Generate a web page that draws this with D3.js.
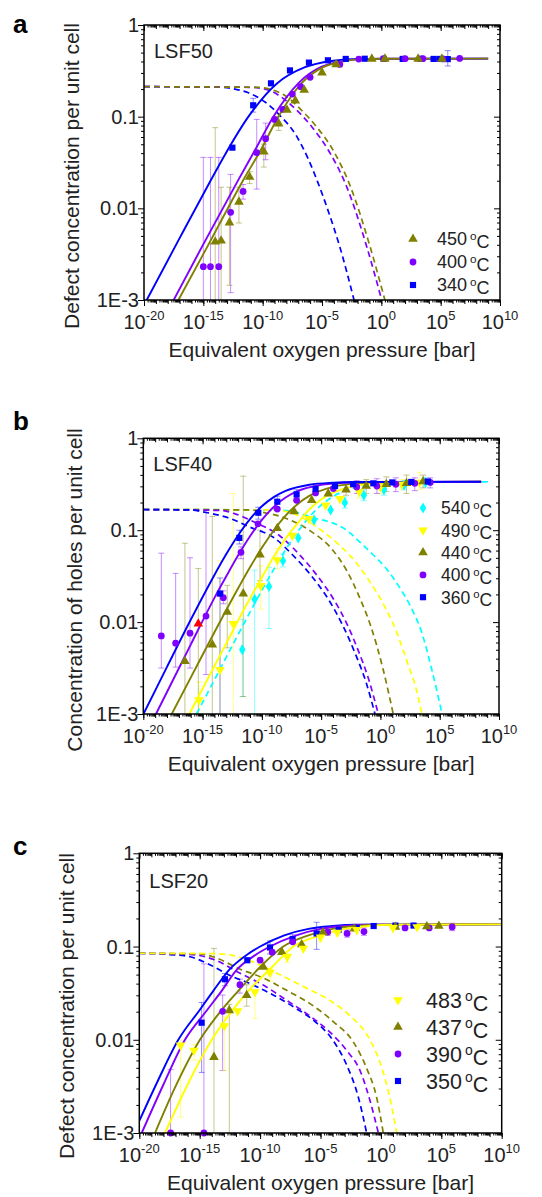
<!DOCTYPE html>
<html>
<head>
<meta charset="utf-8">
<script src="https://cdn.jsdelivr.net/npm/d3@7"></script>
<style>
  body { margin: 0; background: #fff; }
  svg { display: block; font-family: "Liberation Sans", Arial, sans-serif; }
</style>
</head>
<body>
<div id="container"></div>
<script>
// all values are read off the picture as exponents:
// [log10 pO2 (bar), log10 concentration, log10 err low, log10 err high]
// a null err low means the bar runs off the bottom of the plot
const xMajor = [-20, -15, -10, -5, 0, 5, 10];
const yMajor = [-3, -2, -1, 0];
const yLabels = ["1E-3", "0.01", "0.1", "1"];

// ---- a: LSF50 ----
const aTemps = ["450", "400", "340"];
const a340Pts = [[-12.55, -1.338], [-10.8, -0.876, -0.95, -0.8], [-9.3, -0.636], [-7.7, -0.495], [-6.1, -0.41],
  [-4.5, -0.385], [-3.0, -0.37], [-1.4, -0.368], [0.2, -0.37], [1.8, -0.37], [3.3, -0.368], [4.4, -0.37],
  [4.9, -0.37], [5.6, -0.372, -0.447, -0.28]];
const a400Pts = [[-15.0, -2.636, null, -1.444], [-14.4, -2.636, null, -1.444], [-13.7, -2.636, null, -1.444],
  [-12.7, -2.044, -2.92, -1.63], [-11.65, -1.815, -1.9, -1.74], [-10.5, -1.393, -1.79, -1.03],
  [-9.75, -1.24, -1.47, -1.07], [-9.0, -1.03], [-8.3, -0.92], [-7.5, -0.753], [-6.8, -0.673], [-6.0, -0.571],
  [-3.5, -0.43], [-1.9, -0.372], [0.2, -0.368], [2.0, -0.368], [3.5, -0.368], [5.2, -0.37], [6.6, -0.365]];
const a450Pts = [[-14.0, -2.364, null, -1.12], [-13.5, -2.353, null, -1.77], [-12.8, -2.156, -2.84, -1.77],
  [-12.0, -1.93, -2.16, -1.77], [-11.1, -1.658, -1.73, -1.6], [-9.9, -1.382, -1.55, -1.3],
  [-8.65, -1.076, -1.15, -1.0], [-7.95, -0.927], [-7.25, -0.825], [-6.5, -0.709], [-5.0, -0.52],
  [-3.8, -0.43], [-0.8, -0.37], [0.3, -0.37], [3.1, -0.37], [5.1, -0.37]];
const a340Fit = [[-19.77, -3], [-17.1, -2.35], [-14.44, -1.71], [-13.2, -1.42], [-11.2, -1.0], [-8.82, -0.64],
  [-6.43, -0.46], [-4.05, -0.39], [-2, -0.37], [9, -0.367]];
const a400Fit = [[-17.5, -3], [-15.2, -2.44], [-12.05, -1.69], [-10.5, -1.33], [-9.1, -1.0], [-7.0, -0.636],
  [-5.03, -0.455], [-3.5, -0.4], [-2, -0.375], [0, -0.368], [9, -0.367]];
const a450Fit = [[-17.1, -3], [-15.0, -2.5], [-11.63, -1.69], [-10.1, -1.35], [-8.68, -1.0], [-6.73, -0.636],
  [-4.9, -0.46], [-3.3, -0.4], [-2, -0.375], [0, -0.368], [9, -0.367]];
const a340Drop = [[-20, -0.673], [-14, -0.676], [-12.5, -0.695], [-11.2, -0.74], [-9.8, -0.84], [-8.6, -0.98],
  [-7.2, -1.2], [-6.2, -1.45], [-5.4, -1.7], [-4.5, -2.02], [-3.5, -2.42], [-2.3, -3.0]];
const a400Drop = [[-20, -0.673], [-11, -0.68], [-9.5, -0.71], [-8.5, -0.78], [-7.2, -0.92], [-5.8, -1.12],
  [-4.4, -1.38], [-2.92, -1.764], [-1.23, -2.418], [0.03, -3.0]];
const a450Drop = [[-20, -0.673], [-10.5, -0.68], [-9.0, -0.715], [-8.0, -0.78], [-6.8, -0.92], [-5.4, -1.12],
  [-4.0, -1.38], [-2.6, -1.764], [-0.95, -2.418], [0.3, -3.0]];

// ---- b: LSF40 ----
const bTemps = ["540", "490", "440", "400", "360"];
const b360Pts = [[-13.53, -1.69, null, -1.52], [-11.9, -1.084, -1.15, -1.0], [-10.3, -0.81, -0.88, -0.75],
  [-8.7, -0.69, -0.75, -0.63], [-7.07, -0.61, -0.65, -0.56], [-5.47, -0.55], [-3.83, -0.518],
  [-2.3, -0.5], [-0.6, -0.49], [1.0, -0.48], [2.6, -0.475], [4.0, -0.47]];
const b400Pts = [[-18.48, -2.15, -2.5, -1.25], [-17.27, -2.23, -2.49, -1.47], [-16.06, -2.12, -2.5, -1.3],
  [-14.71, -1.934, -2.57, -0.807], [-13.25, -1.734, -1.8, -1.66], [-11.76, -1.241, -1.31, -1.18],
  [-10.33, -0.93], [-8.7, -0.77], [-7.07, -0.675], [-5.47, -0.595], [-3.97, -0.547],
  [-2.0, -0.53, -0.6, -0.46], [-0.3, -0.52, -0.6, -0.44], [1.3, -0.5, -0.58, -0.43],
  [2.9, -0.49, -0.57, -0.43], [4.2, -0.48, -0.54, -0.43]];
const b440Pts = [[-16.49, -2.427, null, -1.142], [-14.18, -2.245, null, -0.85], [-12.92, -1.89, -2.28, -1.6],
  [-11.57, -1.69, -2.81, -0.412], [-10.16, -1.266, -1.55, -1.0], [-8.7, -0.978], [-7.29, -0.796],
  [-5.8, -0.675], [-4.4, -0.602], [-2.9, -0.56, -0.62, -0.5], [-1.2, -0.52, -0.6, -0.45],
  [0.5, -0.5, -0.58, -0.42], [2.2, -0.49, -0.6, -0.4], [3.6, -0.47, -0.54, -0.4]];
const b490Pts = [[-15.3, -2.847, null, -2.65], [-13.53, -2.518, null, -1.33], [-12.41, -2.018, null, -0.6],
  [-10.1, -1.606, -1.86, -1.387], [-8.7, -1.325, -1.42, -1.2], [-7.43, -1.058], [-6.03, -0.876],
  [-4.62, -0.73], [-3.41, -0.657], [-1.8, -0.58, -0.65, -0.52], [0.0, -0.53, -0.6, -0.47],
  [1.8, -0.5, -0.56, -0.45], [3.3, -0.48, -0.56, -0.37]];
const b540Pts = [[-11.65, -2.3, -2.81, -1.97], [-10.61, -1.752, null, -1.434], [-9.4, -1.613, -2.07, -1.405],
  [-8.22, -1.332, -1.4, -1.26], [-6.93, -1.084], [-5.6, -0.887], [-4.2, -0.78],
  [-3.0, -0.7, -0.76, -0.64], [-1.4, -0.62, -0.68, -0.56], [0.3, -0.56, -0.62, -0.5],
  [2.0, -0.51, -0.56, -0.46], [3.8, -0.48, -0.53, -0.43]];
const bRedPts = [[-15.36, -2.018, null, -1.416]];
const b360Fit = [[-20, -3.004], [-19, -2.745], [-18, -2.487], [-16, -1.975], [-14, -1.487], [-13, -1.26],
  [-12, -1.055], [-11, -0.879], [-10, -0.74], [-9, -0.64], [-8, -0.572], [-6, -0.505], [-4, -0.483],
  [-2, -0.476], [8.5, -0.473]];
const b400Fit = [[-18.93, -3.0], [-18, -2.761], [-16, -2.245], [-14, -1.736], [-13, -1.501], [-12, -1.273],
  [-11, -1.066], [-10, -0.888], [-9, -0.747], [-8, -0.644], [-7, -0.575], [-5, -0.507], [-3, -0.483],
  [-1, -0.476], [8.5, -0.473]];
const b440Fit = [[-17.6, -3.0], [-16, -2.604], [-14, -2.11], [-12, -1.632], [-11, -1.404], [-10, -1.192],
  [-9, -1.003], [-8, -0.842], [-7, -0.717], [-6, -0.627], [-4, -0.528], [-2, -0.491], [0, -0.479], [8.5, -0.473]];
const b490Fit = [[-16.12, -3.0], [-15, -2.725], [-13, -2.231], [-11, -1.741], [-10, -1.514], [-9, -1.288],
  [-8, -1.092], [-7, -0.928], [-6, -0.774], [-5, -0.666], [-4, -0.592], [-2, -0.514], [0, -0.487],
  [2, -0.477], [8.5, -0.473]];
const b540Fit = [[-15.51, -3.0], [-14, -2.628], [-12, -2.135], [-10, -1.655], [-9, -1.427], [-8, -1.213],
  [-7, -1.02], [-6, -0.857], [-5, -0.728], [-4, -0.634], [-2, -0.531], [0, -0.492], [3, -0.476], [9.2, -0.473]];
const b360Drop = [[-20, -0.775], [-16, -0.78], [-15, -0.8], [-12.6, -0.876], [-11, -0.967], [-9, -1.08],
  [-7.4, -1.27], [-5.8, -1.5], [-4.4, -1.75], [-3.2, -2.03], [-2.1, -2.35], [-1.2, -2.66], [-0.46, -3.0]];
const b400Drop = [[-20, -0.775], [-13.5, -0.785], [-12.3, -0.82], [-10.5, -0.92], [-8.5, -1.06],
  [-6.8, -1.27], [-5.3, -1.5], [-4.0, -1.74], [-2.9, -2.0], [-1.9, -2.3], [-1.0, -2.62], [-0.18, -3.0]];
const b440Drop = [[-20, -0.775], [-11, -0.78], [-10.1, -0.8], [-8, -0.87], [-6, -1.0], [-4.0, -1.22],
  [-2.8, -1.45], [-1.8, -1.72], [-0.8, -2.05], [0.2, -2.5], [1.08, -3.0]];
const b490Drop = [[-20, -0.775], [-9, -0.78], [-6.8, -0.85], [-5.1, -0.99], [-3.4, -1.17], [-2.0, -1.36],
  [-0.8, -1.58], [0.4, -1.84], [1.4, -2.12], [2.3, -2.45], [3.0, -2.72], [3.5, -3.0]];
const b540Drop = [[-20, -0.775], [-9, -0.78], [-7.6, -0.79], [-5.9, -0.855], [-2.85, -1.0], [-1.73, -1.13],
  [-0.6, -1.27], [0.5, -1.42], [1.5, -1.6], [2.5, -1.82], [3.5, -2.12], [4.3, -2.5], [5.2, -3.0]];

// ---- c: LSF20 ----
const cTemps = ["483", "437", "390", "350"];
const c350Pts = [[-14.84, -1.817, -2.35, -1.6], [-12.91, -1.351, -1.42, -1.29], [-11.06, -1.147],
  [-9.18, -1.01, -1.08, -0.94], [-7.31, -0.921, -0.95, -0.874], [-5.32, -0.86, -1.03, -0.74],
  [-3.5, -0.82], [-2.0, -0.8], [-0.6, -0.78], [1.2, -0.775], [2.7, -0.775]];
const c390Pts = [[-17.41, -3.0, null, -2.32], [-14.65, -3.0, null, -1.186], [-13.1, -1.695, -2.33, -1.52],
  [-11.67, -1.409, -1.5, -1.35], [-10.0, -1.147], [-9.0, -1.06], [-7.3, -0.95],
  [-4.4, -0.845, -0.88, -0.8], [-2.8, -0.86, -0.9, -0.82], [-1.4, -0.84, -0.88, -0.8],
  [2.0, -0.8], [4.0, -0.8], [5.9, -0.79, -0.83, -0.75]];
const c437Pts = [[-13.82, -2.186, null, -1.02], [-12.55, -1.685, null, -1.62], [-11.11, -1.523, -1.64, -1.41],
  [-9.73, -1.219], [-8.2, -1.06], [-6.56, -0.978], [-4.8, -0.85], [-2.2, -0.81], [1.2, -0.79],
  [3.8, -0.785], [4.8, -0.78]];
const c483Pts = [[-16.58, -2.06, -2.83, -2.0], [-15.47, -2.115, -2.22, -2.05], [-12.96, -1.853, -2.33, -1.756],
  [-11.86, -1.692], [-10.43, -1.487, -1.77, -1.47], [-9.18, -1.28, -1.37, -1.24],
  [-7.75, -1.111, -1.17, -1.08], [-6.42, -1.021], [-5.0, -0.9, -0.95, -0.85], [-3.6, -0.85],
  [-2.0, -0.82], [1.0, -0.8], [3.0, -0.79]];
const c350Fit = [[-20, -2.87], [-18.5, -2.45], [-16.77, -2.0], [-15, -1.68], [-13.87, -1.475], [-12.49, -1.24],
  [-11, -1.08], [-10, -1.0], [-8, -0.88], [-6, -0.81], [-4, -0.78], [-2, -0.767], [10, -0.762]];
const c390Fit = [[-19.8, -3], [-18, -2.48], [-16.22, -2.0], [-14.5, -1.7], [-13.18, -1.475], [-11.94, -1.25],
  [-10.5, -1.1], [-9.18, -1.0], [-7, -0.88], [-5, -0.81], [-3, -0.78], [-1, -0.766], [10, -0.762]];
const c437Fit = [[-18.7, -3], [-17, -2.5], [-14.98, -2.0], [-13.3, -1.7], [-11.8, -1.475], [-10, -1.22],
  [-8.08, -1.0], [-6, -0.88], [-4, -0.81], [-2, -0.78], [0, -0.767], [10, -0.762]];
const c483Fit = [[-17.87, -3], [-16, -2.48], [-14, -2.0], [-12.5, -1.72], [-10.97, -1.475], [-9, -1.22],
  [-7.25, -1.0], [-5, -0.88], [-3, -0.81], [-1, -0.78], [1, -0.767], [10, -0.762]];
const c350Drop = [[-20, -1.072], [-17.5, -1.086], [-15.8, -1.11], [-14.4, -1.18], [-12.5, -1.31],
  [-10.8, -1.4], [-9.2, -1.5], [-7.2, -1.65], [-5.5, -1.8], [-4.0, -2.0], [-2.8, -2.28], [-1.9, -2.6],
  [-1.18, -3.0]];
const c390Drop = [[-20, -1.072], [-16.5, -1.08], [-15.2, -1.093], [-13.6, -1.15], [-11.9, -1.27],
  [-9.7, -1.416], [-7.8, -1.577], [-6.15, -1.72], [-4.2, -1.92], [-2.8, -2.12], [-1.73, -2.33],
  [-0.9, -2.654], [-0.21, -3.0]];
const c437Drop = [[-20, -1.072], [-15, -1.08], [-13.9, -1.11], [-11.7, -1.24], [-9.7, -1.34], [-7.8, -1.47],
  [-5.9, -1.61], [-3.9, -1.81], [-2.3, -2.02], [-1.2, -2.3], [-0.35, -2.62], [0.2, -3.0]];
const c483Drop = [[-20, -1.072], [-14, -1.075], [-12.5, -1.09], [-10.3, -1.18], [-8.4, -1.3], [-6.4, -1.43],
  [-4.2, -1.58], [-2.5, -1.75], [-1.0, -1.98], [0.0, -2.27], [0.7, -2.6], [1.31, -3.0]];

const blue = "#0000ff", purple = "#8000ff", olive = "#808000",
  yellow = "#ffff00", cyan = "#00ffff", red = "#ff0000";

const width = 542;
const height = 1197;

const panels = [
  {
    label: "a", name: "LSF50", yTitle: "Defect concentration per unit cell",
    box: { l: 144, r: 500, t: 25, b: 300 }, yTitlePos: [72, 176], labelY: 33, nameY: 58,
    series: [
      { color: blue, shape: "square", pts: a340Pts, fit: a340Fit, drop: a340Drop },
      { color: purple, shape: "circle", pts: a400Pts, fit: a400Fit, drop: a400Drop },
      { color: olive, shape: "triangle", pts: a450Pts, fit: a450Fit, drop: a450Drop }
    ],
    legend: { x: 413, tx: 437, y: 239, dy: 23, size: 18, temps: aTemps,
      marks: [[olive, "triangle"], [purple, "circle"], [blue, "square"]] }
  },
  {
    label: "b", name: "LSF40", yTitle: "Concentration of holes per unit cell",
    box: { l: 143.3, r: 499, t: 438.3, b: 714 }, yTitlePos: [75, 590], labelY: 430, nameY: 471,
    series: [
      { color: cyan, shape: "diamond", pts: b540Pts, fit: b540Fit, drop: b540Drop, fitDashed: true },
      { color: yellow, shape: "down", pts: b490Pts, fit: b490Fit, drop: b490Drop },
      { color: olive, shape: "triangle", pts: b440Pts, fit: b440Fit, drop: b440Drop },
      { color: purple, shape: "circle", pts: b400Pts, fit: b400Fit, drop: b400Drop },
      { color: blue, shape: "square", pts: b360Pts, fit: b360Fit, drop: b360Drop },
      { color: red, shape: "triangle", pts: bRedPts, barColor: olive }
    ],
    legend: { x: 423, tx: 441, y: 508, dy: 22.3, size: 17.5, temps: bTemps,
      marks: [[cyan, "diamond"], [yellow, "down"], [olive, "triangle"], [purple, "circle"], [blue, "square"]] }
  },
  {
    label: "c", name: "LSF20", yTitle: "Defect concentration per unit cell",
    box: { l: 139.3, r: 501.7, t: 853.3, b: 1133 }, yTitlePos: [67, 1006], labelY: 855, nameY: 888,
    series: [
      { color: blue, shape: "square", pts: c350Pts, fit: c350Fit, drop: c350Drop },
      { color: purple, shape: "circle", pts: c390Pts, fit: c390Fit, drop: c390Drop },
      { color: olive, shape: "triangle", pts: c437Pts, fit: c437Fit, drop: c437Drop },
      { color: yellow, shape: "down", pts: c483Pts, fit: c483Fit, drop: c483Drop }
    ],
    legend: { x: 398, tx: 426, y: 1000, dy: 27, size: 21.5, temps: cTemps,
      marks: [[yellow, "down"], [olive, "triangle"], [purple, "circle"], [blue, "square"]] }
  }
];

const shapes = { square: d3.symbolSquare, circle: d3.symbolCircle, triangle: d3.symbolTriangle,
  down: d3.symbolTriangle, diamond: d3.symbolDiamond };
const sizes = { square: 38, circle: 36, triangle: 40, down: 40, diamond: 36 };

const svg = d3.select("#container").append("svg")
  .attr("width", width)
  .attr("height", height);

svg.append("rect").attr("width", width).attr("height", height).attr("fill", "#fff");

// minor tick positions for the log axes
const xMinor = d3.range(-20, 10).flatMap(e => d3.range(2, 10).map(m => m * 10 ** e));
const xDecades = d3.range(-20, 11).map(e => 10 ** e);
const yMinor = d3.range(-3, 0).flatMap(e => d3.range(2, 10).map(m => m * 10 ** e));

function symbolPath(shape) {
  return d3.symbol().type(shapes[shape]).size(sizes[shape])();
}

function drawPanel(p) {
  const { l, r, t, b } = p.box;
  const x = d3.scaleLog().domain([1e-20, 1e10]).range([l, r]);
  const y = d3.scaleLog().domain([1e-3, 1]).range([b, t]);
  const px = e => x(10 ** e);
  const py = e => y(10 ** e);
  const g = svg.append("g");

  const clipId = "clip-" + p.label;
  svg.append("clipPath").attr("id", clipId)
    .append("rect")
    .attr("x", l).attr("y", t)
    .attr("width", r - l).attr("height", b - t);

  const plot = g.append("g").attr("clip-path", `url(#${clipId})`);

  const line = d3.line()
    .x(d => px(d[0]))
    .y(d => py(d[1]))
    .curve(d3.curveMonotoneX);

  // error bars
  p.series.forEach(s => {
    const bars = s.pts.filter(d => d.length > 2);
    const eg = plot.append("g")
      .attr("stroke", s.barColor || s.color)
      .attr("stroke-opacity", 0.45)
      .attr("stroke-width", 1);
    bars.forEach(d => {
      const cx = px(d[0]);
      const lo = d[2] === null ? b + 5 : py(d[2]);
      const hi = py(d[3]);
      eg.append("line").attr("x1", cx).attr("x2", cx).attr("y1", lo).attr("y2", hi);
      eg.append("line").attr("x1", cx - 3).attr("x2", cx + 3).attr("y1", hi).attr("y2", hi);
      if (d[2] !== null) {
        eg.append("line").attr("x1", cx - 3).attr("x2", cx + 3).attr("y1", lo).attr("y2", lo);
      }
    });
  });

  // dashed curves
  p.series.filter(s => s.drop).forEach(s => {
    plot.append("path")
      .datum(s.drop)
      .attr("fill", "none")
      .attr("stroke", s.color)
      .attr("stroke-width", 1.7)
      .attr("stroke-dasharray", "6,4")
      .attr("d", line);
  });

  // fits
  p.series.filter(s => s.fit).forEach(s => {
    plot.append("path")
      .datum(s.fit)
      .attr("fill", "none")
      .attr("stroke", s.color)
      .attr("stroke-width", s.fitDashed ? 1.7 : 1.9)
      .attr("stroke-dasharray", s.fitDashed ? "6,4" : null)
      .attr("d", line);
  });

  // markers
  p.series.forEach(s => {
    g.append("g").selectAll("path")
      .data(s.pts)
      .join("path")
      .attr("d", symbolPath(s.shape))
      .attr("fill", s.color)
      .attr("transform", d => `translate(${px(d[0])},${py(d[1])})` + (s.shape === "down" ? " rotate(180)" : ""));
  });

  // frame
  g.append("rect")
    .attr("x", l).attr("y", t)
    .attr("width", r - l).attr("height", b - t)
    .attr("fill", "none")
    .attr("stroke", "#000")
    .attr("stroke-width", 1.5);

  // ticks: out on bottom/left, in on top/right
  const tickAxis = (axis, tr, values, size) => {
    const a = g.append("g")
      .attr("transform", tr)
      .call(axis.tickValues(values).tickSize(size).tickSizeOuter(0).tickFormat(""));
    a.select(".domain").remove();
    a.selectAll("line").attr("stroke", "#000").attr("stroke-width", 1);
  };
  const majorX = xMajor.map(e => 10 ** e);
  const majorY = yMajor.map(e => 10 ** e);
  tickAxis(d3.axisBottom(x), `translate(0,${b})`, xMinor, 2.5);
  tickAxis(d3.axisBottom(x), `translate(0,${b})`, xDecades, 4);
  tickAxis(d3.axisBottom(x), `translate(0,${b})`, majorX, 6);
  tickAxis(d3.axisBottom(x), `translate(0,${t})`, xMinor, 2.5);
  tickAxis(d3.axisBottom(x), `translate(0,${t})`, xDecades, 4);
  tickAxis(d3.axisBottom(x), `translate(0,${t})`, majorX, 6);
  tickAxis(d3.axisLeft(y), `translate(${l},0)`, yMinor, 3);
  tickAxis(d3.axisLeft(y), `translate(${l},0)`, majorY, 6);
  tickAxis(d3.axisLeft(y), `translate(${r},0)`, yMinor, 3);
  tickAxis(d3.axisLeft(y), `translate(${r},0)`, majorY, 6);

  // tick labels
  const xl = g.append("g").selectAll("text")
    .data(xMajor)
    .join("text")
    .attr("x", e => px(e))
    .attr("y", b + 29)
    .attr("text-anchor", "middle")
    .attr("font-size", 20)
    .attr("fill", "#222");
  xl.append("tspan").text("10");
  xl.append("tspan").attr("dy", -9).attr("font-size", 13).text(e => e);

  g.append("g").selectAll("text")
    .data(yMajor)
    .join("text")
    .attr("x", l - 5)
    .attr("y", e => py(e))
    .attr("dy", "0.35em")
    .attr("text-anchor", "end")
    .attr("font-size", 20)
    .attr("fill", "#222")
    .text((e, i) => yLabels[i]);

  // axis titles
  g.append("text")
    .attr("x", (l + r) / 2)
    .attr("y", b + 57)
    .attr("text-anchor", "middle")
    .attr("font-size", 21)
    .attr("fill", "#222")
    .text("Equivalent oxygen pressure [bar]");

  g.append("text")
    .attr("transform", `translate(${p.yTitlePos[0]},${p.yTitlePos[1]}) rotate(-90)`)
    .attr("dy", "0.35em")
    .attr("text-anchor", "middle")
    .attr("font-size", 21)
    .attr("fill", "#222")
    .text(p.yTitle);

  // panel letter and sample name
  g.append("text")
    .attr("x", 13).attr("y", p.labelY)
    .attr("font-size", 26)
    .attr("font-weight", "bold")
    .text(p.label);

  g.append("text")
    .attr("x", l + 10).attr("y", p.nameY)
    .attr("font-size", 20)
    .attr("fill", "#222")
    .text(p.name);

  // legend
  const lg = p.legend;
  lg.marks.forEach((m, i) => {
    const ly = lg.y + i * lg.dy;
    g.append("path")
      .attr("d", symbolPath(m[1]))
      .attr("fill", m[0])
      .attr("transform", `translate(${lg.x},${ly})` + (m[1] === "down" ? " rotate(180)" : ""));
    const tx = g.append("text")
      .attr("x", lg.tx)
      .attr("y", ly)
      .attr("dy", "0.36em")
      .attr("font-size", lg.size)
      .attr("fill", "#222");
    tx.append("tspan").text(lg.temps[i]);
    tx.append("tspan").attr("dx", 3).attr("dy", "-0.45em").attr("font-size", lg.size * 0.65).text("o");
    tx.append("tspan").attr("dy", "0.45em").text("C");
  });
}

panels.forEach(drawPanel);
</script>
</body>
</html>
